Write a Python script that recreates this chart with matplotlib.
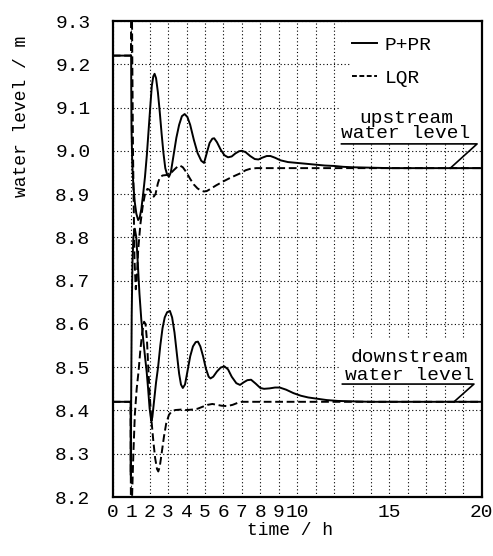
import matplotlib
matplotlib.use("Agg")
import matplotlib.pyplot as plt
from matplotlib.patches import Rectangle
from matplotlib.lines import Line2D

plt.rcParams['font.family'] = ['Liberation Mono', 'DejaVu Sans']

# ---- data ----
up_pr_t = [0, 1.0, 1.005, 1.02, 1.06, 1.12, 1.2, 1.28, 1.38, 1.46, 1.55, 1.65, 1.75, 1.85, 1.95,
           2.05, 2.12, 2.2, 2.27, 2.35, 2.45, 2.55, 2.65, 2.75, 2.85, 2.95, 3.05, 3.15, 3.3, 3.45,
           3.6, 3.75, 3.9, 4.05, 4.2, 4.4, 4.6, 4.8, 4.95, 5.1, 5.25, 5.4, 5.5, 5.65, 5.85, 6.05,
           6.25, 6.45, 6.65, 6.85, 7.0, 7.2, 7.45, 7.7, 7.9, 8.1, 8.35, 8.55, 8.8, 9.1, 9.5, 10,
           10.5, 11, 11.5, 12, 12.5, 13, 14, 15, 20]
up_pr_v = [9.22, 9.22, 9.15, 9.05, 8.97, 8.92, 8.88, 8.855, 8.84, 8.845, 8.865, 8.90, 8.94, 8.99,
           9.05, 9.11, 9.15, 9.172, 9.178, 9.168, 9.135, 9.09, 9.04, 8.995, 8.96, 8.945, 8.94,
           8.95, 8.99, 9.03, 9.06, 9.08, 9.085, 9.078, 9.06, 9.025, 8.995, 8.977, 8.972, 8.995,
           9.018, 9.028, 9.029, 9.02, 9.003, 8.99, 8.985, 8.987, 8.994, 8.999, 9.0, 8.997, 8.988,
           8.981, 8.98, 8.984, 8.988, 8.988, 8.984, 8.978, 8.974, 8.972, 8.970, 8.968, 8.966,
           8.965, 8.963, 8.962, 8.961, 8.96, 8.96]

up_lqr_t = [0, 0.99, 1.0, 1.03, 1.1, 1.18, 1.25, 1.3, 1.38, 1.5, 1.62, 1.75, 1.88, 2.0, 2.12, 2.22,
            2.32, 2.45, 2.55, 2.7, 2.9, 3.1, 3.3, 3.5, 3.64, 3.8, 4.0, 4.2, 4.4, 4.6, 4.8, 4.95,
            5.1, 5.3, 5.6, 5.98, 6.3, 6.6, 6.97, 7.2, 7.5, 7.8, 20]
up_lqr_v = [9.22, 9.22, 9.40, 9.40, 9.0, 8.75, 8.68, 8.70, 8.77, 8.83, 8.87, 8.90, 8.912, 8.91,
            8.90, 8.894, 8.90, 8.925, 8.938, 8.943, 8.944, 8.946, 8.955, 8.963, 8.966, 8.962,
            8.95, 8.935, 8.922, 8.913, 8.908, 8.906, 8.907, 8.912, 8.92, 8.929, 8.936, 8.942,
            8.949, 8.955, 8.959, 8.96, 8.96]

dn_pr_t = [0, 0.97, 0.98, 1.0, 1.03, 1.07, 1.12, 1.2, 1.28, 1.36, 1.45, 1.55, 1.65, 1.75, 1.84,
           1.92, 2.0, 2.06, 2.1, 2.15, 2.25, 2.35, 2.46, 2.58, 2.7, 2.82, 2.95, 3.1, 3.22, 3.35,
           3.48, 3.6, 3.7, 3.8, 3.92, 4.05, 4.2, 4.35, 4.5, 4.62, 4.75, 4.9, 5.05, 5.2, 5.3, 5.45,
           5.65, 5.85, 6.05, 6.25, 6.45, 6.7, 6.9, 7.1, 7.3, 7.5, 7.75, 8.0, 8.2, 8.5, 8.8, 9.05,
           9.4, 9.8, 10.2, 10.6, 11.1, 11.6, 12.2, 13, 14, 20]
dn_pr_v = [8.42, 8.42, 8.25, 8.42, 8.62, 8.74, 8.80, 8.82, 8.80, 8.74, 8.67, 8.61, 8.565, 8.525,
           8.49, 8.45, 8.405, 8.385, 8.375, 8.385, 8.425, 8.465, 8.50, 8.55, 8.59, 8.615, 8.627,
           8.63, 8.615, 8.58, 8.53, 8.485, 8.46, 8.452, 8.46, 8.49, 8.525, 8.548, 8.558, 8.559,
           8.548, 8.525, 8.497, 8.478, 8.474, 8.478, 8.49, 8.499, 8.502, 8.495, 8.478, 8.463,
           8.459, 8.465, 8.47, 8.471, 8.462, 8.452, 8.45, 8.451, 8.453, 8.453, 8.448, 8.44,
           8.434, 8.43, 8.427, 8.424, 8.422, 8.421, 8.42, 8.42]

dn_lqr_t = [0, 0.97, 0.99, 1.05, 1.12, 1.2, 1.3, 1.4, 1.5, 1.6, 1.7, 1.78, 1.86, 1.95, 2.03, 2.1,
            2.2, 2.3, 2.4, 2.47, 2.55, 2.65, 2.78, 2.9, 3.05, 3.2, 3.4, 3.7, 4.0, 4.3, 4.6, 4.9,
            5.15, 5.4, 5.65, 5.9, 6.2, 6.5, 6.8, 7.0, 20]
dn_lqr_v = [8.42, 8.42, 8.12, 8.2, 8.3, 8.39, 8.45, 8.49, 8.54, 8.58, 8.605, 8.60, 8.56, 8.48,
            8.42, 8.378, 8.33, 8.29, 8.265, 8.259, 8.27, 8.30, 8.34, 8.37, 8.39, 8.398, 8.401,
            8.402, 8.401, 8.402, 8.404, 8.409, 8.413, 8.415, 8.413, 8.411, 8.41, 8.413, 8.418,
            8.42, 8.42]

x_ticks = [0, 1, 2, 3, 4, 5, 6, 7, 8, 9, 10, 15, 20]
x_minor = [11, 12, 13, 14, 16, 17, 18, 19]
y_ticks = [8.2, 8.3, 8.4, 8.5, 8.6, 8.7, 8.8, 8.9, 9.0, 9.1, 9.2, 9.3]
series_labels = ["P+PR", "LQR"]
up_text = "upstream\nwater level"
dn_text = "downstream\nwater level"

# ---- figure ----
W, H = 493, 556
fig = plt.figure(figsize=(W / 100, H / 100), dpi=100)
L, R, T, B = 112.7, 481.7, 21, 497
ax = fig.add_axes([L / W, 1 - B / H, (R - L) / W, (B - T) / H])

ax.set_xlim(0, 20)
ax.set_ylim(8.2, 9.3)
ax.set_axisbelow(True)

dash = (0, (4, 1.9))
lw = 1.4
ax.plot(up_pr_t, up_pr_v, color='black', lw=lw, zorder=3)
ax.plot(dn_pr_t, dn_pr_v, color='black', lw=lw, zorder=3)
ax.plot(up_lqr_t, up_lqr_v, color='black', lw=lw, linestyle=dash, zorder=3)
ax.plot(dn_lqr_t, dn_lqr_v, color='black', lw=lw, linestyle=dash, zorder=3)

ax.set_xticks(x_ticks)
ax.set_xticklabels([str(v) for v in x_ticks])
ax.set_xticks(x_minor, minor=True)
ax.set_yticks(y_ticks)
ax.set_yticklabels([f"{v:.1f}" for v in y_ticks])

ax.grid(True, which='both', axis='x', color='black', lw=0.8, linestyle=(0, (1, 2.2)))
ax.grid(True, which='major', axis='y', color='black', lw=0.8, linestyle=(0, (1, 2.2)))

ax.tick_params(which='both', length=0)
ax.tick_params(axis='y', pad=16, labelsize=14)
ax.tick_params(axis='x', pad=5, labelsize=14)

for s in ax.spines.values():
    s.set_linewidth(1.6)

ax.set_xlabel("time / h", fontsize=13)
ax.xaxis.set_label_coords(0.48, -0.052)
ax.set_ylabel("water level / m", fontsize=13)
ax.yaxis.set_label_coords(-0.225, 0.80)

# white areas behind legend and labels
ax.add_patch(Rectangle((12.9, 9.13), 7.1, 0.17, facecolor='white', edgecolor='none', zorder=1))
ax.add_patch(Rectangle((12.4, 9.016), 7.6, 0.12, facecolor='white', edgecolor='none', zorder=1))
ax.add_patch(Rectangle((12.4, 8.461), 7.6, 0.105, facecolor='white', edgecolor='none', zorder=1))

# legend
handles = [Line2D([], [], color='black', lw=lw),
           Line2D([], [], color='black', lw=lw, linestyle=(0, (2.5, 1.3)))]
leg = ax.legend(handles, series_labels, loc='upper left', bbox_to_anchor=(0.648, 0.968),
                frameon=False, fontsize=14, handlelength=1.3, handletextpad=0.4,
                labelspacing=0.78, borderpad=0, borderaxespad=0)

# annotations (va='baseline' anchors the last line)
up_level = up_pr_v[-1]
dn_level = dn_pr_v[-1]
ax.text(15.9, 9.0298, up_text, ha='center', va='baseline', multialignment='center',
        fontsize=14, linespacing=0.82, zorder=4)
ax.plot([12.4, 19.75, 18.3], [9.016, 9.016, up_level], color='black', lw=1.2, zorder=4)

ax.text(16.1, 8.471, dn_text, ha='center', va='baseline', multialignment='center',
        fontsize=14, linespacing=1.05, zorder=4)
ax.plot([12.45, 19.58, 18.5], [8.461, 8.461, dn_level], color='black', lw=1.2, zorder=4)

fig.savefig("out.png", dpi=100, facecolor='white')
